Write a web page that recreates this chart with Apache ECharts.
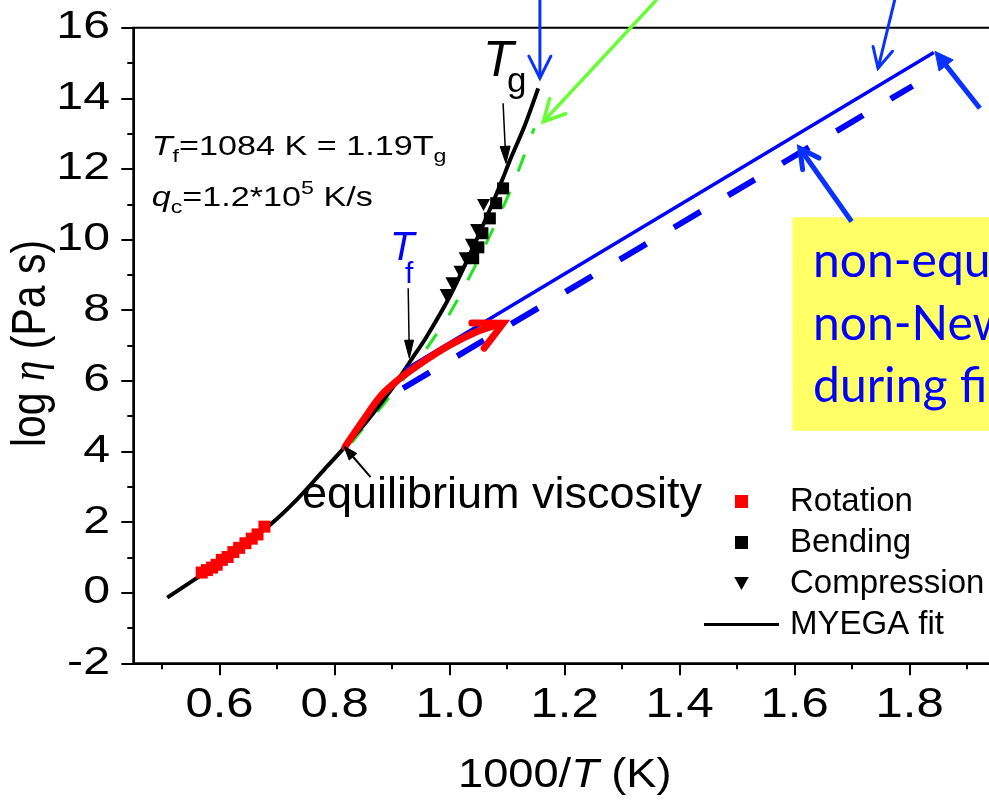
<!DOCTYPE html>
<html>
<head>
<meta charset="utf-8">
<script src="https://cdn.jsdelivr.net/npm/echarts@6/dist/echarts.min.js"></script>
<style>
  html, body { margin: 0; padding: 0; background: #fff; }
  #chart { width: 989px; height: 800px; }
</style>
</head>
<body>
<div id="chart"></div>
<script>
// ---- data: x = 1000/T (1/K), y = log10 viscosity (Pa s) ----
const myegaX = [0.509, 0.56, 0.60, 0.624, 0.6875, 0.734, 0.78, 0.818, 0.86, 0.902, 0.931, 0.96, 1.0, 1.04, 1.07, 1.093, 1.105, 1.13, 1.154];
const myegaY = [-0.14, 0.41, 0.84, 1.12, 1.92, 2.63, 3.45, 4.13, 4.93, 5.83, 6.54, 7.25, 8.38, 9.75, 10.85, 11.75, 12.25, 13.2, 14.28];

const rotationX = [0.569, 0.578, 0.587, 0.595, 0.604, 0.614, 0.624, 0.634, 0.645, 0.656, 0.666, 0.678];
const rotationY = [0.57, 0.64, 0.71, 0.79, 0.93, 1.01, 1.15, 1.27, 1.40, 1.53, 1.65, 1.87];

const bendingX = [1.041, 1.050, 1.057, 1.070, 1.081, 1.093];
const bendingY = [9.47, 9.78, 10.18, 10.60, 11.03, 11.45];

const compressionX = [0.994, 1.004, 1.018, 1.027, 1.038, 1.047, 1.059];
const compressionY = [8.43, 8.76, 9.09, 9.47, 9.85, 10.27, 10.98];

const greenFitX = [0.83, 0.847, 0.896, 0.954, 1.0, 1.041, 1.076, 1.111, 1.147];
const greenFitY = [4.25, 4.6, 5.55, 6.78, 7.9, 9.14, 10.32, 11.59, 13.15];

const drawPathX = [0.818, 0.85, 0.879, 0.914, 0.954, 1.0, 1.047, 1.076, 1.09];
const drawPathY = [4.13, 4.89, 5.55, 6.07, 6.54, 7.01, 7.39, 7.55, 7.61];

const glassLineX = [0.922, 1.842];
const glassLineY = [6.31, 15.3];
const glassDashX = [0.919, 1.805];
const glassDashY = [5.79, 14.35];

const xMajorTicks = [0.6, 0.8, 1.0, 1.2, 1.4, 1.6, 1.8];
const xMinorTicks = [0.5, 0.7, 0.9, 1.1, 1.3, 1.5, 1.7, 1.9];
const yTicks = [-2, 0, 2, 4, 6, 8, 10, 12, 14, 16];

const FONT = 'Liberation Sans';
const zip = (xs, ys) => xs.map((x, i) => [x, ys[i]]);
const SQUARE = 'path://M0,0L10,0L10,10L0,10Z';
const DOWN_TRIANGLE = 'path://M0,0L10,0L5,9Z';

const chart = echarts.init(document.getElementById('chart'), null, { renderer: 'canvas' });

const axisLineStyle = { color: '#000', width: 2 };

const option = {
  animation: false,
  backgroundColor: '#fff',
  grid: {
    left: 133.3, top: 27.7, width: 891.4, height: 635.6,
    containLabel: false, outerBoundsMode: 'none',
    show: true, borderColor: '#000', borderWidth: 2, backgroundColor: 'transparent'
  },
  xAxis: [
    {
      type: 'value', min: 0.45, max: 2.0, position: 'bottom', offset: 0,
      axisLine: { show: true, onZero: false, lineStyle: axisLineStyle },
      axisTick: { show: true, customValues: xMajorTicks, length: 12, lineStyle: axisLineStyle },
      axisLabel: { show: false },
      splitLine: { show: false }
    },
    {
      type: 'value', min: 0.45, max: 2.0, position: 'bottom', offset: 0,
      axisLine: { show: false, onZero: false },
      axisTick: { show: true, customValues: xMinorTicks, length: 6, lineStyle: axisLineStyle },
      axisLabel: { show: false },
      splitLine: { show: false }
    }
  ],
  yAxis: {
    type: 'value', min: -2, max: 16, interval: 2,
    axisLine: { show: true, onZero: false, lineStyle: axisLineStyle },
    axisTick: { show: true, length: 12, lineStyle: axisLineStyle },
    minorTick: { show: true, splitNumber: 2, length: 6, lineStyle: axisLineStyle },
    axisLabel: { show: false },
    splitLine: { show: false },
    minorSplitLine: { show: false }
  },
  legend: {
    data: [
      { name: 'Rotation', icon: SQUARE },
      { name: 'Bending', icon: SQUARE },
      { name: 'Compression', icon: DOWN_TRIANGLE },
      { name: 'MYEGA fit', icon: 'path://M0,0L25,0L25,1L0,1Z' }
    ],
    orient: 'vertical', left: 704, top: 481, padding: 0, itemGap: 0,
    itemWidth: 75, itemHeight: 13, selectedMode: false,
    textStyle: { fontSize: 33, fontFamily: FONT, color: '#000', lineHeight: 41, padding: [0, 0, 0, 6] }
  },
  series: [
    {
      name: 'green fit', type: 'line', data: zip(greenFitX, greenFitY),
      symbol: 'none', smooth: 0.3, z: 2,
      lineStyle: { color: '#1ee61e', width: 3, type: [18, 22] }
    },
    {
      name: 'MYEGA fit', type: 'line', data: zip(myegaX, myegaY),
      symbol: 'none', smooth: 0.3, z: 3,
      lineStyle: { color: '#000', width: 4 }, itemStyle: { color: '#000' }
    },
    {
      name: 'glass line', type: 'line', data: zip(glassLineX, glassLineY),
      symbol: 'none', z: 4, lineStyle: { color: '#0000ff', width: 3.5 }
    },
    {
      name: 'glass dashed', type: 'line', data: zip(glassDashX, glassDashY),
      symbol: 'none', z: 4, lineStyle: { color: '#0000ff', width: 6, type: [31, 32] }
    },
    {
      name: 'drawing path', type: 'line', data: zip(drawPathX, drawPathY),
      symbol: 'none', smooth: 0.3, z: 5,
      lineStyle: { color: '#ff0000', width: 7, cap: 'round' }
    },
    {
      name: 'Rotation', type: 'scatter', data: zip(rotationX, rotationY),
      symbol: 'rect', symbolSize: 12, z: 6, itemStyle: { color: '#ff0000', opacity: 1 }
    },
    {
      name: 'Bending', type: 'scatter', data: zip(bendingX, bendingY),
      symbol: 'rect', symbolSize: 12, z: 7, itemStyle: { color: '#000', opacity: 1 }
    },
    {
      name: 'Compression', type: 'scatter', data: zip(compressionX, compressionY),
      symbol: DOWN_TRIANGLE, symbolSize: [13, 12], z: 7, itemStyle: { color: '#000', opacity: 1 }
    }
  ]
};

chart.setOption(option);

// ---- annotations, anchored in data coordinates ----
const arrowSpecs = [
  { tail: [1.157, 16.79], tip: [1.157, 14.57], color: '#0a32ff', width: 3, head: [22, 11] },
  { tail: [1.774, 16.79], tip: [1.745, 14.85], color: '#0a32ff', width: 3, head: [20, 10] },
  { tail: [1.36, 16.79], tip: [1.163, 13.34], color: '#66ff33', width: 3.5, head: [21, 11] },
  { tail: [1.922, 13.72], tip: [1.844, 15.33], color: '#0a32ff', width: 5, head: [18, 9], filled: true },
  { tail: [1.699, 10.51], tip: [1.609, 12.585], color: '#0a32ff', width: 5, head: [19, 10] },
  { tail: [1.093, 13.86], tip: [1.098, 12.16], color: '#000', width: 1.5, head: [17, 5], filled: true },
  { tail: [0.928, 8.62], tip: [0.93, 6.64], color: '#000', width: 1.5, head: [18, 4.5], filled: true },
  { tail: [0.8626, 3.27], tip: [0.8162, 4.15], color: '#000', width: 2, head: [14, 5], filled: true },
  { tail: [1.0151, 7.009], tip: [1.0932, 7.63], color: '#ff0000', width: 7, head: [28, 14], noShaft: true }
];

function toPx(p) { return chart.convertToPixel({ gridIndex: 0 }, p); }

function arrowElements(a) {
  const p0 = toPx(a.tail), p1 = toPx(a.tip);
  const dx = p1[0] - p0[0], dy = p1[1] - p0[1];
  const len = Math.hypot(dx, dy);
  const ux = dx / len, uy = dy / len, nx = -uy, ny = ux;
  const [hl, hw] = a.head;
  const base = [p1[0] - ux * hl, p1[1] - uy * hl];
  const w1 = [base[0] + nx * hw, base[1] + ny * hw];
  const w2 = [base[0] - nx * hw, base[1] - ny * hw];
  const els = [];
  if (!a.noShaft) {
    const end = a.filled ? [p1[0] - ux * hl * 0.6, p1[1] - uy * hl * 0.6] : p1;
    els.push({
      type: 'polyline', silent: true, z: 50,
      shape: { points: [p0, end] },
      style: { stroke: a.color, lineWidth: a.width, fill: null, lineCap: 'butt' }
    });
  }
  if (a.filled) {
    els.push({
      type: 'polygon', silent: true, z: 50,
      shape: { points: [p1, w1, w2] },
      style: { fill: a.color, stroke: a.color, lineWidth: 1 }
    });
  } else {
    els.push({
      type: 'polyline', silent: true, z: 50,
      shape: { points: [w1, p1, w2] },
      style: { stroke: a.color, lineWidth: a.width, fill: null, lineCap: 'round', lineJoin: 'miter' }
    });
  }
  return els;
}

const measureCtx = document.createElement('canvas').getContext('2d');
// Lays out a run of text pieces on one baseline (subscripts / superscripts via dy),
// optionally widened horizontally by sx.
function textRun(x0, baseline, pieces, color, family, sx) {
  const fam = family || FONT;
  const k = sx || 1;
  let x = x0;
  const out = [];
  pieces.forEach(s => {
    measureCtx.font = (s.italic ? 'italic ' : '') + s.size + 'px "' + fam + '"';
    const w = measureCtx.measureText(s.t).width;
    const b = baseline + (s.dy || 0);
    out.push({
      type: 'text', silent: true, z: 60, x: x, y: b - 0.35 * s.size, scaleX: k,
      style: {
        text: s.t, fontSize: s.size, fontFamily: fam, fontStyle: s.italic ? 'italic' : 'normal',
        fill: color, align: 'left', verticalAlign: 'middle'
      }
    });
    x += w * k;
  });
  return out;
}

const graphics = [];

// tick labels placed at the axis tick values
xMajorTicks.forEach(v => {
  const p = toPx([v, -2]);
  graphics.push({
    type: 'text', silent: true, z: 60, x: p[0], y: 720 - 0.35 * 43, scaleX: 1.14,
    style: { text: v.toFixed(1), fontSize: 43, fontFamily: FONT, fill: '#000', align: 'center', verticalAlign: 'middle' }
  });
});
yTicks.forEach(v => {
  const p = toPx([0.45, v]);
  graphics.push({
    type: 'text', silent: true, z: 60, x: 110, y: p[1], scaleX: 1.27,
    style: { text: String(v), fontSize: 38, fontFamily: FONT, fill: '#000', align: 'right', verticalAlign: 'middle' }
  });
});

// note box
graphics.push({
  type: 'rect', silent: true, z: 1,
  shape: { x: 792.3, y: 217.3, width: 260, height: 213.4 },
  style: { fill: '#ffff66' }
});
graphics.push(...textRun(813, 278.3, [{ t: 'non-equilibrium', size: 48 }], '#0000ff', 'Lato'));
graphics.push(...textRun(813, 341.7, [{ t: 'non-Newtonian', size: 48 }], '#0000ff', 'Lato'));
graphics.push(...textRun(813, 403.3, [{ t: 'during fiber drawing', size: 48 }], '#0000ff', 'Lato'));

arrowSpecs.forEach(a => graphics.push(...arrowElements(a)));

// T_g label
graphics.push(...textRun(483, 80, [{ t: 'T', size: 50, italic: true }], '#000'));
graphics.push(...textRun(507, 95, [{ t: 'g', size: 35 }], '#000'));
// T_f label
graphics.push(...textRun(390, 263, [{ t: 'T', size: 40, italic: true }], '#0000ff'));
graphics.push(...textRun(405, 285, [{ t: 'f', size: 30 }], '#0000ff'));
// parameter notes
graphics.push(...textRun(151.7, 157, [
  { t: 'T', size: 28, italic: true },
  { t: 'f', size: 19, dy: 6 },
  { t: '=1084 K = 1.19T', size: 28 },
  { t: 'g', size: 19, dy: 6 }
], '#000', FONT, 1.22));
graphics.push(...textRun(151.7, 208, [
  { t: 'q', size: 28, italic: true },
  { t: 'c', size: 19, dy: 6 },
  { t: '=1.2*10', size: 28 },
  { t: '5', size: 19, dy: -13 },
  { t: ' K/s', size: 28 }
], '#000', FONT, 1.22));
graphics.push(...textRun(302, 511.7, [{ t: 'equilibrium viscosity', size: 45 }], '#000'));

// axis titles
graphics.push({
  type: 'text', silent: true, z: 60, x: 564.8, y: 790 - 0.35 * 40, scaleX: 1.13,
  style: {
    text: '{a|1000/}{b|T}{a| (K)}', align: 'center', verticalAlign: 'middle',
    rich: {
      a: { fontSize: 40, fontFamily: FONT, fill: '#000' },
      b: { fontSize: 40, fontFamily: FONT, fontStyle: 'italic', fill: '#000' }
    }
  }
});
graphics.push({
  type: 'text', silent: true, z: 60, x: 31.2, y: 343.5, rotation: Math.PI / 2, scaleY: 1.19,
  style: {
    text: '{a|log }{b|η}{a| (Pa s)}', align: 'center', verticalAlign: 'middle',
    rich: {
      a: { fontSize: 41, fontFamily: FONT, fill: '#000' },
      b: { fontSize: 41, fontFamily: 'Liberation Serif', fontStyle: 'italic', fill: '#000' }
    }
  }
});

chart.setOption({ graphic: { elements: graphics } });
</script>
</body>
</html>
